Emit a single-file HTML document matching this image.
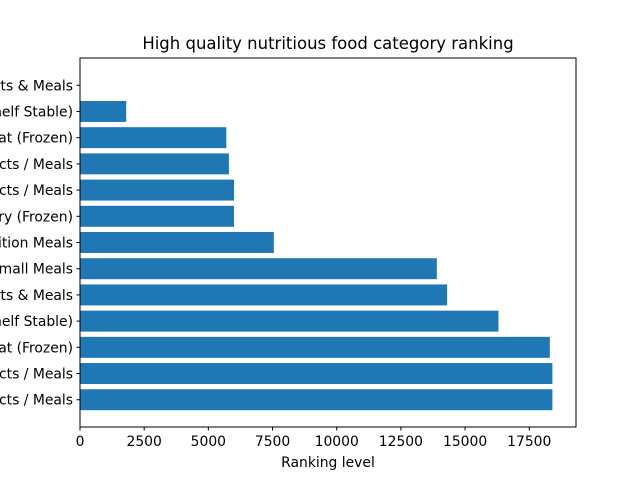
<!DOCTYPE html>
<html><head><meta charset="utf-8"><style>
html,body{margin:0;padding:0;background:#fff;overflow:hidden}
svg{display:block;font-family:"DejaVu Sans","Liberation Sans",sans-serif}
</style></head><body>
<svg id="chart" width="640" height="480">
<rect width="640" height="480" fill="#fff"/>
<text x="328" y="49" text-anchor="middle" font-size="16.5">High quality nutritious food category ranking</text>
<g id="bars"></g><g id="yticks"></g><g id="xticks"></g>
<rect x="80" y="58" width="496" height="369" fill="none" stroke="#000" stroke-width="1"/>
<text x="328" y="467" text-anchor="middle" font-size="13.9">Ranking level</text>
</svg>
<script>
const categories = ["Frozen Products / Meals","Canned Products / Meals","Prepared Meat (Frozen)","Soups (Shelf Stable)","Frozen Desserts & Meals","Snacks / Small Meals","Ready Nutrition Meals","Poultry (Frozen)","Boxed Products / Meals","Dried Products / Meals","Seafood Meat (Frozen)","Sauces (Shelf Stable)","Breakfast Desserts & Meals"];
const values = [18400,18400,18300,16300,14300,13900,7550,6000,6000,5800,5700,1800,0];
const xTicks = [0,2500,5000,7500,10000,12500,15000,17500];
const xTickLabels = ["0","2500","5000","7500","10000","12500","15000","17500"];
const NS="http://www.w3.org/2000/svg";
const L=80,R=576,T=58,B=427;
const xmax=Math.max(...values)*1.05||1;
const x=v=>L+(v/xmax)*(R-L);
const n=categories.length;
const ymin=-0.4-0.05*(n-0.2), ymax=n-1+0.4+0.05*(n-0.2);
const y=i=>B-(i-ymin)/(ymax-ymin)*(B-T);
const unit=(B-T)/(ymax-ymin);
function mk(t,a,p){const e=document.createElementNS(NS,t);for(const k in a)e.setAttribute(k,a[k]);p.appendChild(e);return e;}
const gb=document.getElementById('bars'),gy=document.getElementById('yticks'),gx=document.getElementById('xticks');
values.forEach((v,i)=>{
  const r=mk('rect',{x:L,y:y(i)-0.4*unit,width:Math.max(0,x(v)-L),height:0.8*unit,fill:'#1f77b4'},gb);
  
  
  const tk=mk('line',{x1:L-3.5,x2:L,y1:y(i),y2:y(i),stroke:'#000'},gy);
  
  
  const t=mk('text',{x:L-7,y:y(i)+5,'text-anchor':'end','font-size':'13.9'},gy);
  t.textContent=categories[i];
  
  
});
xTicks.forEach((v,i)=>{
  const tk=mk('line',{x1:x(v),x2:x(v),y1:B,y2:B+3.5,stroke:'#000'},gx);
  
  
  const t=mk('text',{x:x(v),y:B+19,'text-anchor':'middle','font-size':'13.9'},gx);
  t.textContent=xTickLabels[i];
  
  
});
</script>
</body></html>
